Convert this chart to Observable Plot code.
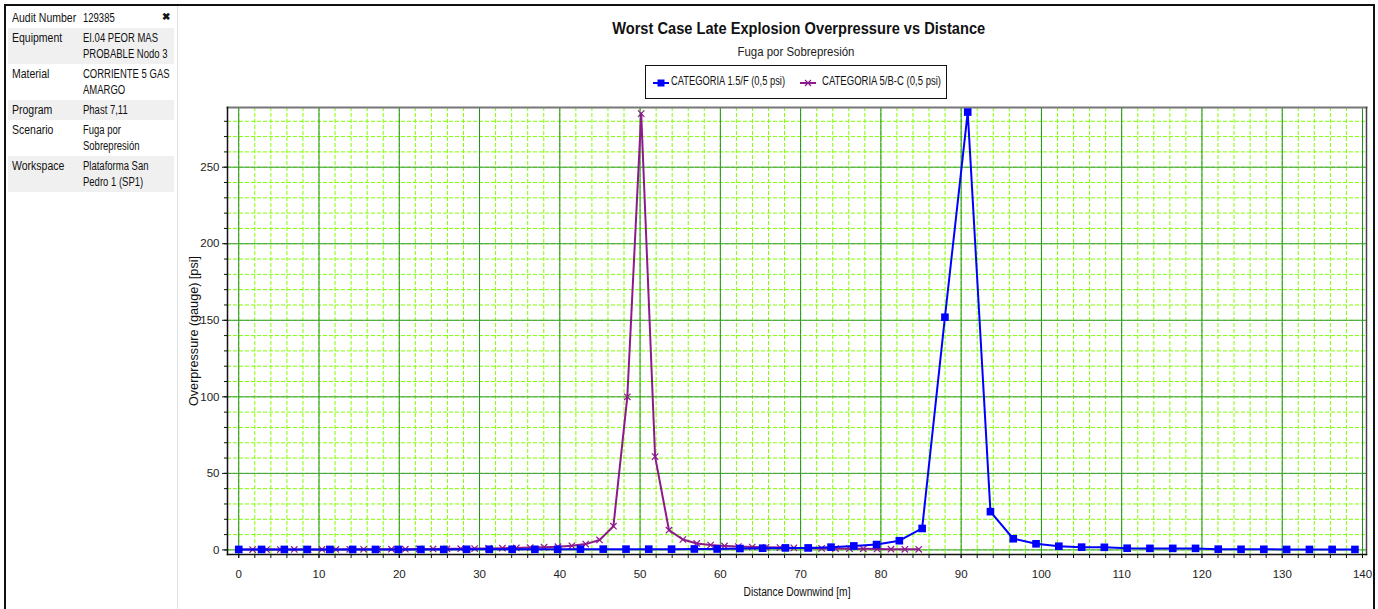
<!DOCTYPE html>
<html><head><meta charset="utf-8">
<script src="https://cdn.jsdelivr.net/npm/d3@7"></script>
<script src="https://cdn.jsdelivr.net/npm/@observablehq/plot@0.6"></script>
<style>
body{margin:0;background:#fff;}
#root{position:relative;width:1378px;height:609px;overflow:hidden;font-family:"Liberation Sans",Arial,sans-serif;color:#111;}
#border{position:absolute;left:4px;top:4px;width:1371px;height:620px;border:2px solid #111;border-bottom:none;box-sizing:border-box;}
#panel{position:absolute;left:8px;top:8px;width:166px;overflow:hidden;}
.row{display:flex;font-size:12.5px;line-height:16px;padding:2px 0 2px 0;}
.row.g{background:#f0f0f0;}
.row .k{width:75px;flex:none;padding-left:4px;box-sizing:border-box;}
.row .k span{display:inline-block;white-space:nowrap;transform:scaleX(0.84);transform-origin:0 0;}
.row .v{flex:none;width:91px;}
.row .v span{display:inline-block;white-space:pre;transform:scaleX(0.76);transform-origin:0 0;}
#sep{position:absolute;left:177px;top:6px;width:1px;height:603px;background:#e2e2e2;}
#close{position:absolute;left:162px;top:11px;font-size:10px;font-weight:bold;}
.fit{position:absolute;white-space:nowrap;transform-origin:50% 50%;}
#title{top:19px;font-size:17px;font-weight:bold;}
#subtitle{top:45px;font-size:12.5px;color:#222;}
#legend{position:absolute;left:645px;top:65px;width:302px;height:34px;border:1px solid #111;box-sizing:border-box;}
.lt{position:absolute;white-space:nowrap;font-size:12.5px;top:8px;transform-origin:0 50%;}
.ls{position:absolute;top:11px;}
#chart{position:absolute;left:178px;top:100px;}
</style></head><body>
<div id="root">
  <div id="border"></div>
  <div id="panel"></div>
  <div id="close">✖</div>
  <div id="sep"></div>
  <div id="title" class="fit"></div>
  <div id="subtitle" class="fit"></div>
  <div id="legend"></div>
  <div id="chart"></div>
</div>
<script>
// ---- Data ----
const infoKeys = ["Audit Number","Equipment","Material","Program","Scenario","Workspace"];
const infoVals = ["129385","EI.04 PEOR MAS\nPROBABLE Nodo 3","CORRIENTE 5 GAS\nAMARGO","Phast 7,11","Fuga por\nSobrepresión","Plataforma San\nPedro 1 (SP1)"];
const titleText = "Worst Case Late Explosion Overpressure vs Distance";
const subtitleText = "Fuga por Sobrepresión";
const seriesNames = ["CATEGORIA 1.5/F (0,5 psi)","CATEGORIA 5/B-C (0,5 psi)"];
const xLabel = "Distance Downwind [m]";
const yLabel = "Overpressure (gauge) [psi]";
const xTicks = [0,10,20,30,40,50,60,70,80,90,100,110,120,130,140];
const yTicks = [0,50,100,150,200,250];

const blueDist = [0,2.84,5.68,8.51,11.35,14.19,17.03,19.87,22.70,25.54,28.38,31.22,34.06,36.89,39.73,42.57,45.41,48.25,51.08,53.92,56.76,59.60,62.44,65.27,68.11,70.95,73.79,76.63,79.46,82.30,85.14,87.98,90.82,93.65,96.49,99.33,102.17,105.01,107.84,110.68,113.52,116.36,119.20,122.03,124.87,127.71,130.55,133.39,136.22,139.06];
const bluePress = [0.3,0.3,0.3,0.3,0.3,0.3,0.3,0.3,0.3,0.3,0.4,0.4,0.4,0.4,0.4,0.5,0.5,0.5,0.5,0.5,0.6,0.6,0.9,1.1,1.3,1.3,1.8,2.6,3.5,6.0,14,152,286,25,7.3,4.0,2.4,1.8,1.7,1.1,1.0,1.0,1.0,0.5,0.4,0.4,0.3,0.3,0.3,0.3];

const purpleDist = [0,1.73,3.46,5.19,6.92,8.65,10.37,12.10,13.83,15.56,17.29,19.02,20.75,22.48,24.21,25.94,27.66,29.39,31.12,32.85,34.58,36.31,38.04,39.77,41.50,43.23,44.95,46.68,48.41,50.14,51.87,53.60,55.33,57.06,58.79,60.52,62.24,63.97,65.70,67.43,69.16,70.89,72.62,74.35,76.08,77.81,79.53,81.26,82.99,84.72];
const purplePress = [0.2,0.2,0.2,0.2,0.3,0.3,0.3,0.3,0.4,0.4,0.4,0.5,0.5,0.6,0.6,0.7,0.8,0.9,1.0,1.1,1.3,1.5,1.8,2.1,2.7,3.8,6.5,15.5,100,285,61,12.9,6.8,4.2,3.2,2.6,2.2,1.9,1.7,1.5,1.3,1.2,1.0,0.9,0.8,0.7,0.6,0.5,0.4,0.4];

const blueColor = "#0000ff", purpleColor = "#8b1a8b";

// fit helper: horizontally squeeze text to the reference's condensed width
function fitCenter(el, text, cx, w){
  el.textContent = text;
  const nat = el.getBoundingClientRect().width;
  el.style.left = (cx - nat/2) + "px";
  el.style.transform = `scaleX(${w/nat})`;
}

// ---- Side panel / headings ----
const panel = document.getElementById("panel");
infoKeys.forEach((k,i)=>{
  const r = document.createElement("div");
  r.className = "row" + (i%2===1 ? " g" : "");
  r.innerHTML = `<div class="k"><span></span></div><div class="v"><span></span></div>`;
  r.querySelector(".k span").textContent = k;
  r.querySelector(".v span").textContent = infoVals[i];
  panel.appendChild(r);
});
fitCenter(document.getElementById("title"), titleText, 798.5, 373);
fitCenter(document.getElementById("subtitle"), subtitleText, 795.5, 117);

const legend = document.getElementById("legend");
const legendSpec = [
  {name:seriesNames[0], color:blueColor, sym:"sq", sx:7, tx:25, tw:114},
  {name:seriesNames[1], color:purpleColor, sym:"x", sx:154, tx:176, tw:119}
];
legendSpec.forEach(s=>{
  const mk = s.sym==="sq" ? `<rect x="4.5" y="2.5" width="7" height="7" fill="${s.color}"/>` :
    `<path d="M5 3 L11 9 M11 3 L5 9" stroke="${s.color}" stroke-width="1.2"/>`;
  const svg = document.createElement("div");
  svg.className="ls"; svg.style.left = s.sx+"px";
  svg.innerHTML = `<svg width="16" height="12" style="display:block"><line x1="0" x2="16" y1="6" y2="6" stroke="${s.color}" stroke-width="2"/>${mk}</svg>`;
  legend.appendChild(svg);
  const t = document.createElement("div");
  t.className="lt"; t.textContent = s.name; t.style.left = s.tx+"px";
  legend.appendChild(t);
  const nat = t.getBoundingClientRect().width;
  t.style.transform = `scaleX(${s.tw/nat})`;
});

// ---- Chart ----
const blue = blueDist.map((d,i)=>({x:d,y:bluePress[i]}));
const purple = purpleDist.map((d,i)=>({x:d,y:purplePress[i]}));
const minorX = d3.range(0,141,2);
const minorY = d3.range(0,290,10);
const xDom = [-1.4,140.5], yDom = [-3,289];

const plot = Plot.plot({
  width:1195, height:509,
  marginLeft:49, marginRight:7, marginTop:7, marginBottom:55,
  style:{fontFamily:'"Liberation Sans",Arial,sans-serif', fontSize:"11.5px", color:"#222", background:"transparent"},
  x:{domain:xDom},
  y:{domain:yDom},
  marks:[
    Plot.ruleX(minorX,{stroke:"#7fff00",strokeDasharray:"4,2",strokeWidth:1}),
    Plot.ruleY(minorY,{stroke:"#7fff00",strokeDasharray:"4,2",strokeWidth:1}),
    Plot.ruleX(xTicks,{stroke:"#1f8f1f",strokeWidth:1}),
    Plot.ruleY(yTicks,{stroke:"#3a9a3a",strokeWidth:1}),
    Plot.frame({anchor:"top",stroke:"#777",strokeWidth:2}),
    Plot.frame({anchor:"right",stroke:"#444",strokeWidth:1.5}),
    Plot.axisX(minorX,{tickSize:4,text:null,label:null,stroke:"#111"}),
    Plot.axisX(xTicks,{tickSize:4,tickPadding:11,label:null,stroke:"#111",fill:"#222"}),
    Plot.axisY(minorY,{tickSize:3,text:null,label:null,stroke:"#111"}),
    Plot.axisY(yTicks,{tickSize:5,tickPadding:3,label:null,stroke:"#111",fill:"#222"}),
    Plot.frame({anchor:"left",stroke:"#111",strokeWidth:1.5}),
    Plot.frame({anchor:"bottom",stroke:"#111",strokeWidth:1.5}),
    Plot.text([xLabel],{frameAnchor:"bottom",dy:41,fontSize:12,fill:"#111",className:"xlab"}),
    Plot.text([yLabel],{frameAnchor:"left",textAnchor:"middle",dx:-33,rotate:-90,fontSize:12,fill:"#111",className:"ylab"}),
    Plot.line(purple,{x:"x",y:"y",stroke:purpleColor,strokeWidth:2}),
    Plot.dot(purple,{x:"x",y:"y",symbol:"times",r:3,stroke:purpleColor,strokeWidth:1.2}),
    Plot.line(blue,{x:"x",y:"y",stroke:blueColor,strokeWidth:2}),
    Plot.dot(blue,{x:"x",y:"y",symbol:"square",r:4.3,fill:blueColor,stroke:"none"})
  ]
});
document.getElementById("chart").appendChild(plot);
// condense axis titles to reference widths
plot.querySelectorAll(".xlab text").forEach(t=>{t.setAttribute("textLength",107);t.setAttribute("lengthAdjust","spacingAndGlyphs");});
plot.querySelectorAll(".ylab text").forEach(t=>{t.setAttribute("textLength",150);t.setAttribute("lengthAdjust","spacingAndGlyphs");});
</script>
</body></html>
